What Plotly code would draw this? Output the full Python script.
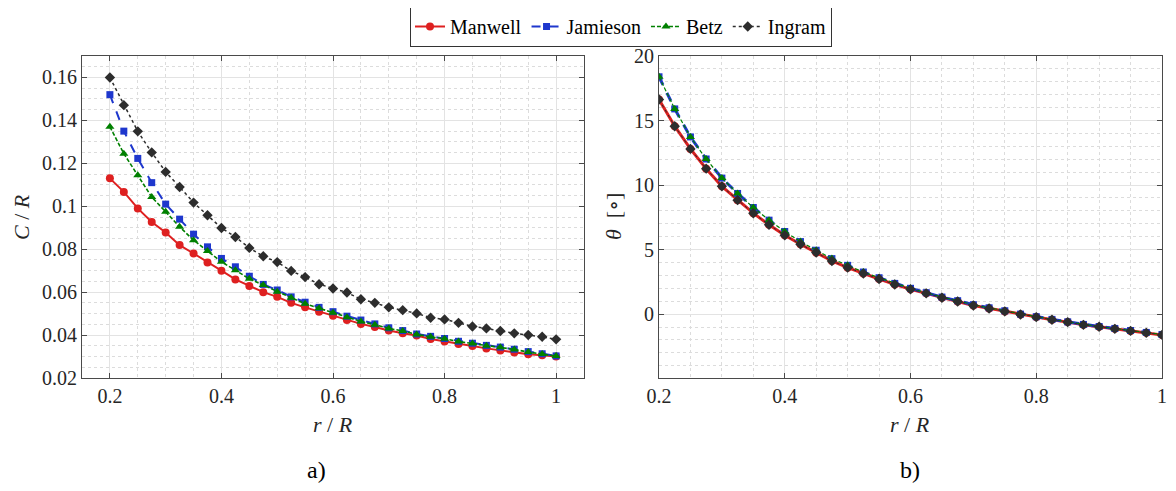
import plotly.graph_objects as go
from plotly.subplots import make_subplots

# ---- data ----
r_R = [0.2, 0.225, 0.25, 0.275, 0.3, 0.325, 0.35, 0.375, 0.4, 0.425, 0.45, 0.475,
       0.5, 0.525, 0.55, 0.575, 0.6, 0.625, 0.65, 0.675, 0.7, 0.725, 0.75, 0.775,
       0.8, 0.825, 0.85, 0.875, 0.9, 0.925, 0.95, 0.975, 1.0]

chord_manwell = [0.113, 0.1067, 0.0990, 0.0927, 0.0878, 0.0819, 0.0780, 0.0738, 0.0700,
                 0.0659, 0.0628, 0.0600, 0.0578, 0.0550, 0.0529, 0.0509, 0.0490, 0.0470,
                 0.0452, 0.0438, 0.0421, 0.0408, 0.0398, 0.0382, 0.0370, 0.0358, 0.0349,
                 0.0338, 0.0328, 0.0319, 0.0311, 0.0306, 0.0300]
chord_jamieson = [0.152, 0.135, 0.1223, 0.111, 0.101, 0.094, 0.0870, 0.0811, 0.0757,
                  0.0718, 0.0674, 0.0636, 0.0610, 0.0578, 0.0553, 0.0529, 0.0509, 0.0488,
                  0.0470, 0.0452, 0.0434, 0.0421, 0.0405, 0.0394, 0.0384, 0.0371, 0.0362,
                  0.0352, 0.0344, 0.0334, 0.0323, 0.0313, 0.0303]
chord_betz = [0.137, 0.1245, 0.1144, 0.1043, 0.0974, 0.0904, 0.0842, 0.0792, 0.0741,
              0.0702, 0.0662, 0.0633, 0.0602, 0.0574, 0.0546, 0.0525, 0.0504, 0.0483,
              0.0463, 0.0448, 0.0431, 0.0419, 0.0403, 0.0392, 0.0383, 0.0370, 0.0361,
              0.0350, 0.0343, 0.0333, 0.0321, 0.0312, 0.0302]
chord_ingram = [0.160, 0.1471, 0.1349, 0.1251, 0.1160, 0.1090, 0.1017, 0.0958, 0.0899,
                0.0857, 0.0806, 0.0767, 0.0740, 0.0699, 0.0670, 0.0637, 0.0617, 0.0598,
                0.0567, 0.0550, 0.0529, 0.0516, 0.0501, 0.0481, 0.0473, 0.0457, 0.0440,
                0.0431, 0.0419, 0.0408, 0.0400, 0.0392, 0.0380]

theta_manwell = [16.63, 14.56, 12.80, 11.27, 9.90, 8.83, 7.82, 6.92, 6.11, 5.41, 4.77,
                 4.12, 3.60, 3.14, 2.72, 2.30, 1.92, 1.61, 1.27, 0.98, 0.67, 0.44, 0.21,
                 -0.03, -0.23, -0.44, -0.62, -0.83, -0.98, -1.14, -1.30, -1.45, -1.61]
theta_jamieson = [18.39, 15.90, 13.73, 12.02, 10.54, 9.35, 8.26, 7.28, 6.40, 5.62, 4.95,
                  4.30, 3.78, 3.26, 2.82, 2.38, 2.00, 1.66, 1.32, 1.04, 0.73, 0.49, 0.26,
                  0.00, -0.20, -0.41, -0.60, -0.80, -0.96, -1.11, -1.27, -1.42, -1.58]
theta_betz = [18.39, 15.90, 13.73, 12.02, 10.54, 9.35, 8.26, 7.28, 6.40, 5.62, 4.95,
              4.30, 3.78, 3.26, 2.82, 2.38, 2.00, 1.66, 1.32, 1.04, 0.73, 0.49, 0.26,
              0.00, -0.20, -0.41, -0.60, -0.80, -0.96, -1.11, -1.27, -1.42, -1.58]
theta_ingram = [16.63, 14.56, 12.80, 11.27, 9.90, 8.83, 7.82, 6.92, 6.11, 5.41, 4.77,
                4.12, 3.60, 3.14, 2.72, 2.30, 1.92, 1.61, 1.27, 0.98, 0.67, 0.44, 0.21,
                -0.03, -0.23, -0.44, -0.62, -0.83, -0.98, -1.14, -1.30, -1.45, -1.61]

series_names = ["Manwell", "Jamieson", "Betz", "Ingram"]
x_ticks = [0.2, 0.4, 0.6, 0.8, 1.0]
x_ticklabels = ["0.2", "0.4", "0.6", "0.8", "1"]
c_ticks = [0.02, 0.04, 0.06, 0.08, 0.1, 0.12, 0.14, 0.16]
c_ticklabels = ["0.02", "0.04", "0.06", "0.08", "0.1", "0.12", "0.14", "0.16"]
t_ticks = [0, 5, 10, 15, 20]

# ---- styles ----
RED = "rgb(222,32,32)"
BLUE = "rgb(30,55,205)"
GREEN = "rgb(0,128,0)"
BLACK = "rgb(45,45,45)"
FONT = "Liberation Serif, DejaVu Serif, serif"

styles = {
    "Manwell": dict(color=RED, dash="solid", symbol="circle", msize=8),
    "Jamieson": dict(color=BLUE, dash="dash", symbol="square", msize=7),
    "Betz": dict(color=GREEN, dash="4px,2px", symbol="triangle-up", msize=8),
    "Ingram": dict(color=BLACK, dash="dot", symbol="diamond", msize=8),
}
width_a = {"Manwell": 2, "Jamieson": 2, "Betz": 1.6, "Ingram": 1.5}
width_b = {"Manwell": 3, "Jamieson": 3, "Betz": 1.2, "Ingram": 1.0}

chord = {"Manwell": chord_manwell, "Jamieson": chord_jamieson,
         "Betz": chord_betz, "Ingram": chord_ingram}
theta = {"Manwell": theta_manwell, "Jamieson": theta_jamieson,
         "Betz": theta_betz, "Ingram": theta_ingram}

# the page body has an 8px margin: the figure is sized so the page does not
# overflow the 1176x491 window; positions below are given in window pixels
W, H, OFF = 1160, 475, 8
def px(x):
    return (x - OFF) / W
def py(y):
    return 1 - (y - OFF) / H

fig = make_subplots(rows=1, cols=2)

for name in series_names:
    s = styles[name]
    fig.add_trace(go.Scatter(
        x=r_R, y=chord[name], name=name, mode="lines+markers",
        line=dict(color=s["color"], dash=s["dash"], width=width_a[name]),
        marker=dict(symbol=s["symbol"], size=s["msize"], color=s["color"]),
        legendgroup=name, showlegend=True), row=1, col=1)
for name in series_names:
    s = styles[name]
    fig.add_trace(go.Scatter(
        x=r_R, y=theta[name], name=name, mode="lines+markers",
        line=dict(color=s["color"], dash=s["dash"], width=width_b[name]),
        marker=dict(symbol=s["symbol"], size=s["msize"], color=s["color"]),
        legendgroup=name, showlegend=False), row=1, col=2)

ax_common = dict(
    showline=True, mirror="ticks", linecolor="#4a4a4a", linewidth=1,
    ticks="inside", ticklen=5, tickcolor="#4a4a4a",
    showgrid=True, gridcolor="#e3e3e3", gridwidth=1,
    zeroline=False, automargin=False,
    tickfont=dict(family=FONT, size=20, color="#262626"),
)

fig.update_xaxes(**ax_common)
fig.update_yaxes(**ax_common)

fig.update_layout(
    xaxis=dict(domain=[px(82), px(584)], range=[0.15, 1.05],
               tickvals=x_ticks, ticktext=x_ticklabels,
               minor=dict(dtick=0.05, tick0=0, showgrid=True, griddash="dot",
                          gridcolor="#dcdcdc", ticks="")),
    yaxis=dict(domain=[py(378), py(56)], range=[0.02, 0.17],
               tickvals=c_ticks, ticktext=c_ticklabels,
               minor=dict(dtick=0.005, tick0=0, showgrid=True, griddash="dot",
                          gridcolor="#dcdcdc", ticks="")),
    xaxis2=dict(domain=[px(659), px(1162)], range=[0.2, 1.0],
                tickvals=x_ticks, ticktext=x_ticklabels,
                minor=dict(dtick=0.05, tick0=0, showgrid=True, griddash="dot",
                           gridcolor="#dcdcdc", ticks="")),
    yaxis2=dict(domain=[py(378), py(56)], range=[-4.95, 20],
                tickvals=t_ticks,
                minor=dict(dtick=1, tick0=0, showgrid=True, griddash="dot",
                           gridcolor="#dcdcdc", ticks="")),
)

def label(text, x, y, size=22, angle=0, color="#262626"):
    return dict(text=text, x=px(x), y=py(y), xref="paper", yref="paper",
                xanchor="center", yanchor="middle", textangle=angle,
                showarrow=False, font=dict(family=FONT, size=size, color=color))

fig.update_layout(
    template="none",
    width=W, height=H,
    margin=dict(l=0, r=0, t=0, b=0, autoexpand=False),
    paper_bgcolor="white", plot_bgcolor="white",
    font=dict(family=FONT, size=20, color="#262626"),
    legend=dict(orientation="h", x=px(621), xanchor="center", y=py(6), yanchor="top",
                bordercolor="#333333", borderwidth=1, bgcolor="white",
                font=dict(family=FONT, size=20, color="black"),
                itemwidth=30, tracegroupgap=0),
    annotations=[
        label("<i>C</i> / <i>R</i>", 22, 217, angle=-90),
        label("<i>r</i> / <i>R</i>", 333, 424),
        label("<i>θ</i>  [∘]", 614, 217, angle=-90),
        label("<i>r</i> / <i>R</i>", 910, 424),
        label("a)", 316, 470, size=24, color="black"),
        label("b)", 910, 470, size=24, color="black"),
    ],
)

fig.write_html("out.html")
